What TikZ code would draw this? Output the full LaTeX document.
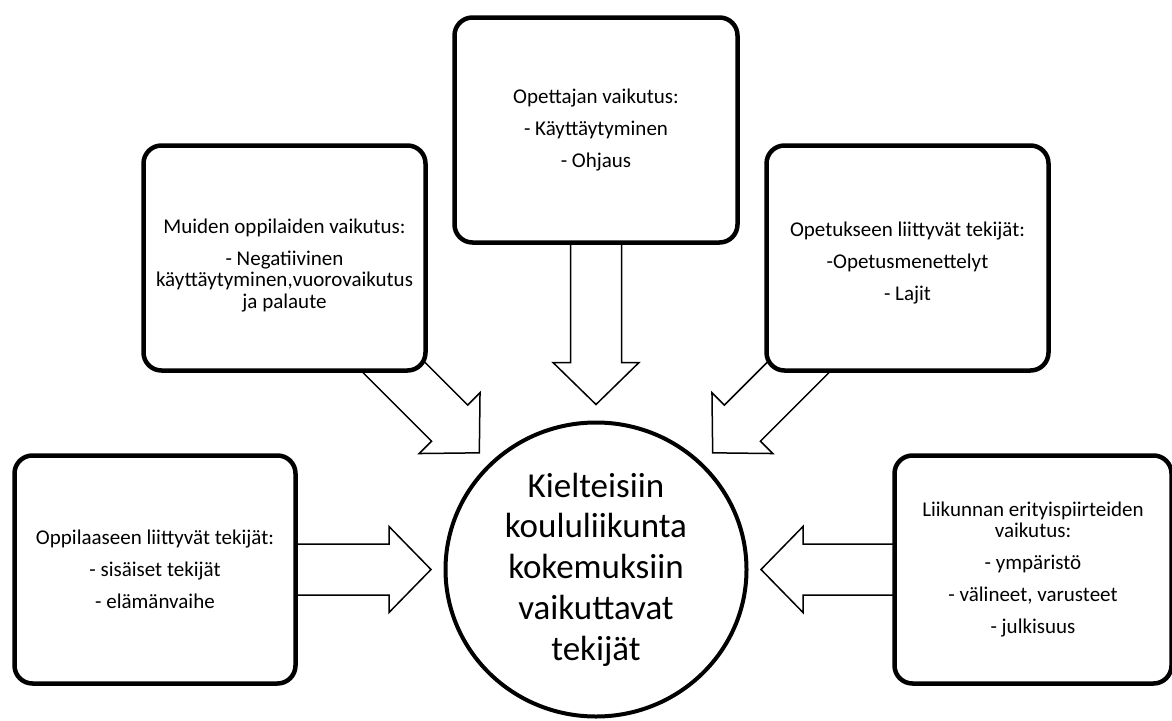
\documentclass[tikz,border=0pt]{standalone}
\usepackage{fontspec}
\setmainfont{Carlito}
\usetikzlibrary{calc,backgrounds,shapes.geometric}
\newcommand\boxfont{\fontsize{21}{21.5}\selectfont}
\newcommand\hubfont{\fontsize{35}{40.75}\selectfont}
% block arrow from box #1 towards hub #2
\newcommand\blockarrow[2]{%
  \coordinate (tip-#1) at ($(#2.center)!165pt!(#1.center)$);
  \coordinate (hb-#1) at ($(tip-#1)!42pt!(#1.center)$);
  \draw[blockarr]
    ($(#1.center)!25.5pt!90:(tip-#1)$) --
    ($(hb-#1)!25.5pt!90:(tip-#1)$) --
    ($(hb-#1)!43pt!90:(tip-#1)$) --
    (tip-#1) --
    ($(hb-#1)!43pt!-90:(tip-#1)$) --
    ($(hb-#1)!25.5pt!-90:(tip-#1)$) --
    ($(#1.center)!25.5pt!-90:(tip-#1)$) -- cycle;
}
\tikzset{
  infobox/.style={draw, line width=4.5pt, rounded corners=18pt, fill=white,
    align=center, font=\boxfont, inner sep=4pt},
  hub/.style={ellipse, draw, line width=4pt, fill=white, align=center,
    font=\hubfont, minimum width=301pt, minimum height=294pt, inner sep=0pt},
  blockarr/.style={draw, line width=1.5pt, fill=white, line join=miter},
}
\begin{document}
\begin{tikzpicture}[x=1pt, y=-1pt]
\useasboundingbox (0,0) rectangle (1172,720);

\node[hub] (c) at (596,569.5)
  {Kielteisiin\\koululiikunta\\kokemuksiin\\vaikuttavat\\tekijät};

\node[infobox, minimum width=283pt, minimum height=225pt] (tc) at (596,130)
  {Opettajan vaikutus:\\[10.5pt]- Käyttäytyminen\\[10.5pt]- Ohjaus};

\node[infobox, minimum width=282pt, minimum height=225pt] (tl) at (284.5,258)
  {\rule{0pt}{29pt}Muiden oppilaiden vaikutus:\\[10.5pt]- Negatiivinen\\käyttäytyminen,vuorovaikutus\\ja palaute};

\node[infobox, minimum width=282pt, minimum height=225pt] (tr) at (907.5,258)
  {\rule{0pt}{24pt}Opetukseen liittyvät tekijät:\\[10.5pt]-Opetusmenettelyt\\[10.5pt]- Lajit};

\node[infobox, minimum width=281pt, minimum height=228pt] (bl) at (155,569.5)
  {Oppilaaseen liittyvät tekijät:\\[10.5pt]- sisäiset tekijät\\[10.5pt]- elämänvaihe};

\node[infobox, minimum width=277pt, minimum height=228pt] (br) at (1033,569.5)
  {Liikunnan erityispiirteiden\\vaikutus:\\[10.5pt]- ympäristö\\[10.5pt]- välineet, varusteet\\[10.5pt]- julkisuus};

\begin{pgfonlayer}{background}
  \fill[white] (0,0) rectangle (1172,720);
  \blockarrow{tc}{c}
  \blockarrow{tl}{c}
  \blockarrow{tr}{c}
  \blockarrow{bl}{c}
  \blockarrow{br}{c}
\end{pgfonlayer}
\end{tikzpicture}
\end{document}
